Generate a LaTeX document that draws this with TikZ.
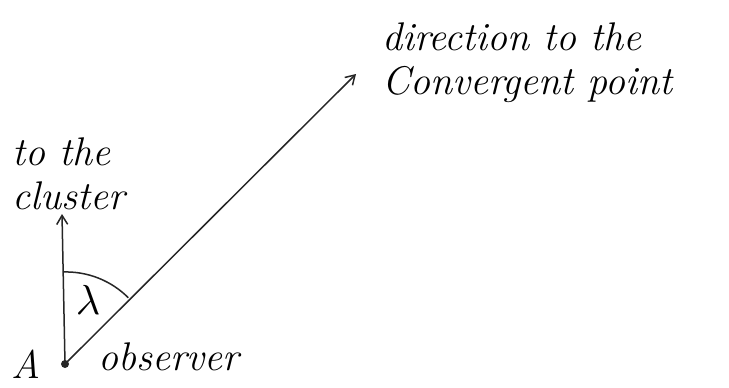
\documentclass[tikz,border=0pt]{standalone}
\usepackage{tikz}
\usetikzlibrary{arrows.meta,positioning}

\begin{document}
\begin{tikzpicture}[x=1pt,y=-1pt,
    sketch/.style={line width=1.5pt, black!85},
    handtext/.style={font=\fontsize{40}{44}\selectfont\itshape, align=left, inner sep=0pt}]
  \useasboundingbox (0,0) rectangle (729,388);
  % Observer and the two directions
  \coordinate (obs) at (65,364);
  \coordinate (clustertip) at (62,214);
  \coordinate (convtip) at (356,74);
  \draw[sketch,-{Straight Barb[length=9pt,width=11pt]}] (obs) -- (clustertip);
  \draw[sketch,-{Straight Barb[length=9pt,width=11pt]}] (obs) -- (convtip);
  \fill[black!85] (obs) circle (4pt);
  % Angle between them
  \draw[sketch] (63,272) arc (92:45:88pt) coordinate (arcend);
  \node[inner sep=0pt] (lam) at (88,300) {\scalebox{4.2}{$\lambda$}};
  % Labels
  \node[handtext,anchor=base] (ptA) at (26,378) {A};
  \node[handtext,anchor=base west] (observer) at (98,370) {observer};
  \node[handtext,anchor=south west] (cluster) at (12,210) {to the\\cluster};
  \node[handtext,anchor=base west] (convergent) at (382,94) {direction to the\\Convergent point};
\end{tikzpicture}
\end{document}
